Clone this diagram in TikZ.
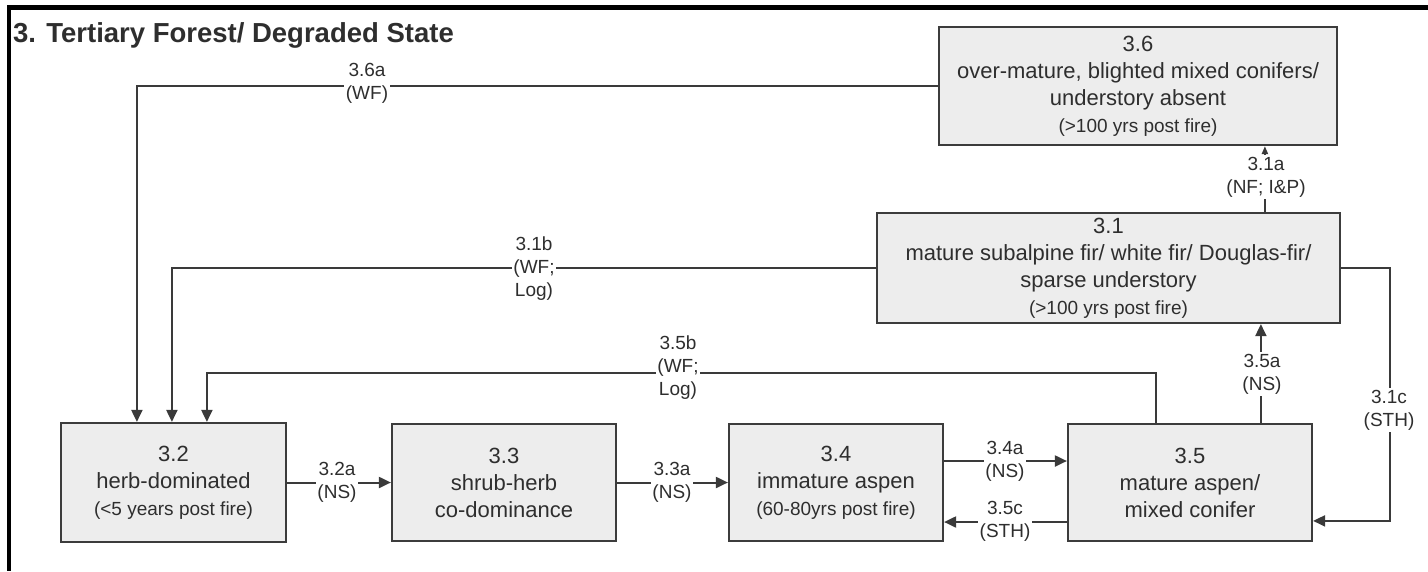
\documentclass[tikz,border=0pt]{standalone}
\usepackage{fontspec}
\setmainfont{Liberation Sans}
\usetikzlibrary{arrows.meta,calc}
\definecolor{boxfill}{HTML}{EDEDED}
\definecolor{boxline}{HTML}{3C3C3C}
\definecolor{connline}{HTML}{3A3A3A}
\definecolor{txt}{HTML}{2E2E2E}
\newcommand{\bodyfont}{\fontsize{22}{27}\selectfont}
\newcommand{\smallfnt}{\fontsize{19}{27}\selectfont}
\newcommand{\lblfont}{\fontsize{19}{23}\selectfont}
\tikzset{
  statebox/.style={draw=boxline, fill=boxfill, line width=2.2pt, rectangle, inner sep=0pt,
    align=center, text=txt, font=\bodyfont},
  conn/.style={draw=connline, line width=2pt, -{Triangle[length=12pt,width=11pt]}},
  connsmall/.style={draw=connline, line width=2pt, -{Triangle[length=8pt,width=6pt]}},
  lbl/.style={fill=white, inner sep=1.5pt, align=center, text=txt, font=\lblfont},
  frameline/.style={draw=black, line width=5pt}
}
\begin{document}
\begin{tikzpicture}[x=1pt,y=-1pt]
\useasboundingbox (0,0) rectangle (1428,571);
\fill[white] (0,0) rectangle (1428,571);
% frame
\draw[frameline] (8,7) -- (1428,7);
\draw[line width=4.5pt,black] (9,5) -- (9,571);
% title
\node[anchor=base west, inner sep=0pt, text=txt, font=\fontsize{27.5}{32}\selectfont\bfseries] (title) at (13,42) {3. Tertiary Forest/ Degraded State};
% boxes
\node[statebox, minimum width=398pt, minimum height=118pt] (n36) at (1138,86)
  {3.6\\over-mature, blighted mixed conifers/\\understory absent\\{\smallfnt(>100 yrs post fire)}};
\node[statebox, minimum width=463pt, minimum height=110pt] (n31) at (1108.5,268)
  {3.1\\mature subalpine fir/ white fir/ Douglas-fir/\\sparse understory\\{\smallfnt(>100 yrs post fire)}};
\node[statebox, minimum width=225pt, minimum height=119pt] (n32) at (173.5,482.5)
  {3.2\\herb-dominated\\{\smallfnt(<5 years post fire)}};
\node[statebox, minimum width=224pt, minimum height=117pt] (n33) at (504,482.5)
  {3.3\\shrub-herb\\co-dominance};
\node[statebox, minimum width=214pt, minimum height=117pt] (n34) at (836,482.5)
  {3.4\\immature aspen\\{\smallfnt(60-80yrs post fire)}};
\node[statebox, minimum width=244pt, minimum height=117pt] (n35) at (1190,482.5)
  {3.5\\mature aspen/\\mixed conifer};
% connector end points
\coordinate (e36a) at ($(n32.north west)+(77,0)$);
\coordinate (e31b) at ($(n32.north west)+(112,0)$);
\coordinate (e35b) at ($(n32.north west)+(147,0)$);
\coordinate (s35b) at ($(n35.north west)+(89,0)$);
\coordinate (s31a) at ($(n31.north west)+(389,0)$);
\coordinate (s35a) at ($(n35.north west)+(194,0)$);
\coordinate (e31c) at ($(n35.north east)+(0,98)$);
% connectors
\draw[conn] (n36.west) -| (e36a);
\draw[conn] (n31.west) -| (e31b);
\draw[conn] (s35b) -- (s35b |- 0,373) -| (e35b);
\draw[connsmall] (s31a) -- (s31a |- n36.south);
\draw[conn] (s35a) -- (s35a |- n31.south);
\draw[conn] (n31.east) -- ++(49,0) |- (e31c);
\draw[conn] (n32.east) -- (n33.west);
\draw[conn] (n33.east) -- (n34.west);
\draw[conn] (n34.east |- 0,461) -- (n35.west |- 0,461);
\draw[conn] (n35.west |- 0,522) -- (n34.east |- 0,522);
% labels
\node[lbl] (l36a) at (367,83) {3.6a\\(WF)};
\node[lbl] (l31b) at (534,269) {3.1b\\(WF;\\Log)};
\node[lbl] (l35b) at (678,368) {3.5b\\(WF;\\Log)};
\node[lbl] (l31a) at (1266,177) {3.1a\\(NF; I\&P)};
\node[lbl] (l35a) at (1262,374) {3.5a\\(NS)};
\node[lbl] (l31c) at (1389,410) {3.1c\\(STH)};
\node[lbl] (l32a) at (337,482) {3.2a\\(NS)};
\node[lbl] (l33a) at (672,482) {3.3a\\(NS)};
\node[lbl] (l34a) at (1005,461) {3.4a\\(NS)};
\node[lbl] (l35c) at (1005,521) {3.5c\\(STH)};
\end{tikzpicture}
\end{document}
